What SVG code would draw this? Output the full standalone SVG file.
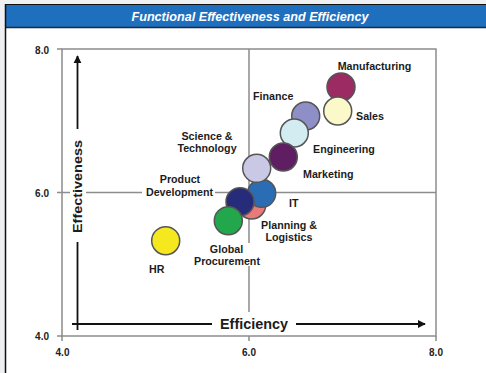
<svg xmlns="http://www.w3.org/2000/svg" width="486" height="373" viewBox="0 0 486 373">
<defs>
<style>
.lbl{font-family:"Liberation Sans",Arial,sans-serif;font-weight:bold;font-size:10.7px;fill:#1c1c1c}
.tick{font-family:"Liberation Sans",Arial,sans-serif;font-weight:bold;font-size:10px;fill:#222}
.axis{font-family:"Liberation Sans",Arial,sans-serif;font-weight:bold;fill:#1c1c1c}
.grid{stroke:#8c8c8c;stroke-width:1.5;fill:none}
.arr{stroke:#111;stroke-width:1.8;fill:none}
.b{stroke:#555;stroke-width:1.5}
</style>
<marker id="ah" viewBox="0 0 10 10" refX="9" refY="5" markerWidth="4.5" markerHeight="4.5" orient="auto" markerUnits="strokeWidth">
<path d="M0,0 L10,5 L0,10 z" fill="#111"/>
</marker>
</defs>
<rect x="0" y="0" width="486" height="373" fill="#eef0f2"/>
<rect x="6" y="28" width="480" height="345" fill="#fff"/>
<rect x="6" y="5" width="480" height="22" fill="#1f6fbf"/>
<line x1="5" y1="4.5" x2="486" y2="4.5" stroke="#111" stroke-width="1.2"/>
<line x1="6" y1="27.5" x2="486" y2="27.5" stroke="#1b2a3c" stroke-width="1.5"/>
<line x1="5.5" y1="4" x2="5.5" y2="373" stroke="#111" stroke-width="1.5"/>
<text x="250" y="20.5" text-anchor="middle" textLength="237" lengthAdjust="spacingAndGlyphs" style="font-family:'Liberation Sans',Arial,sans-serif;font-weight:bold;font-style:italic;font-size:12.5px;fill:#fff">Functional Effectiveness and Efficiency</text>

<g id="plot-frame">
<rect x="62" y="49" width="374" height="287" class="grid"/>
<path class="grid" d="M57,49H62 M57,192.5H62 M57,336H62 M62,336V341 M249,336V341 M436,336V341"/>
<path class="grid" d="M62,192.5H70 M86,192.5H142 M215,192.5H436"/>
<path class="grid" d="M249,49V243 M249,266V312"/>
<text class="tick" x="49" y="53.5" text-anchor="end">8.0</text>
<text class="tick" x="49" y="196.5" text-anchor="end">6.0</text>
<text class="tick" x="49" y="340" text-anchor="end">4.0</text>
<text class="tick" x="62.5" y="356" text-anchor="middle">4.0</text>
<text class="tick" x="249" y="356" text-anchor="middle">6.0</text>
<text class="tick" x="436" y="356" text-anchor="middle">8.0</text>
</g>

<g id="connectors">
<line class="arr" x1="77.5" y1="129" x2="77.5" y2="56" marker-end="url(#ah)"/>
<line class="arr" x1="77.5" y1="242" x2="77.5" y2="330"/>
<line class="arr" x1="72" y1="324" x2="212" y2="324"/>
<line class="arr" x1="296" y1="324" x2="425" y2="324" marker-end="url(#ah)"/>
</g>

<g id="axis-labels">
<text class="axis" x="254" y="329" text-anchor="middle" font-size="14.4" textLength="68" lengthAdjust="spacingAndGlyphs">Efficiency</text>
<text class="axis" transform="translate(82.3,186.5) rotate(-90)" x="0" y="0" text-anchor="middle" font-size="13.5" textLength="93" lengthAdjust="spacingAndGlyphs">Effectiveness</text>
</g>

<g id="manufacturing"><circle class="b" cx="341" cy="87" r="14" fill="#9c2a63"/><text class="lbl" x="337.7" y="70">Manufacturing</text></g>
<g id="sales"><circle class="b" cx="337.7" cy="111" r="14" fill="#fbf8c9"/><text class="lbl" x="356" y="119.5">Sales</text></g>
<g id="finance"><circle class="b" cx="305.7" cy="116" r="14" fill="#8f8fc8"/><text class="lbl" x="253" y="99.5">Finance</text></g>
<g id="engineering"><circle class="b" cx="294.3" cy="133" r="14" fill="#d3ecf2"/><text class="lbl" x="313" y="153">Engineering</text></g>
<g id="marketing"><circle class="b" cx="283.3" cy="157" r="14" fill="#5e1e61"/><text class="lbl" x="303" y="178">Marketing</text></g>
<g id="planning-logistics"><circle class="b" cx="251.7" cy="205" r="14" fill="#e87a7a"/><text class="lbl" x="289" y="229" text-anchor="middle">Planning &amp;</text><text class="lbl" x="289" y="241" text-anchor="middle">Logistics</text></g>
<g id="it"><circle class="b" cx="261.7" cy="193.3" r="14" fill="#2a6db5"/><text class="lbl" x="289" y="206.5">IT</text></g>
<g id="science-technology"><circle class="b" cx="256.7" cy="168.3" r="14" fill="#c9c8e5"/><text class="lbl" x="207" y="140" text-anchor="middle">Science &amp;</text><text class="lbl" x="207" y="152" text-anchor="middle">Technology</text></g>
<g id="product-development"><circle class="b" cx="240" cy="201.7" r="14" fill="#262b7a"/><text class="lbl" x="180" y="183" text-anchor="middle">Product</text><text class="lbl" x="179.5" y="195.5" text-anchor="middle">Development</text></g>
<g id="global-procurement"><circle class="b" cx="228.3" cy="220.7" r="14" fill="#22a74c"/><text class="lbl" x="226.5" y="253" text-anchor="middle">Global</text><text class="lbl" x="227" y="265" text-anchor="middle">Procurement</text></g>
<g id="hr"><circle class="b" cx="165.7" cy="240.7" r="14" fill="#f5e81e"/><text class="lbl" x="149" y="273">HR</text></g>
</svg>
